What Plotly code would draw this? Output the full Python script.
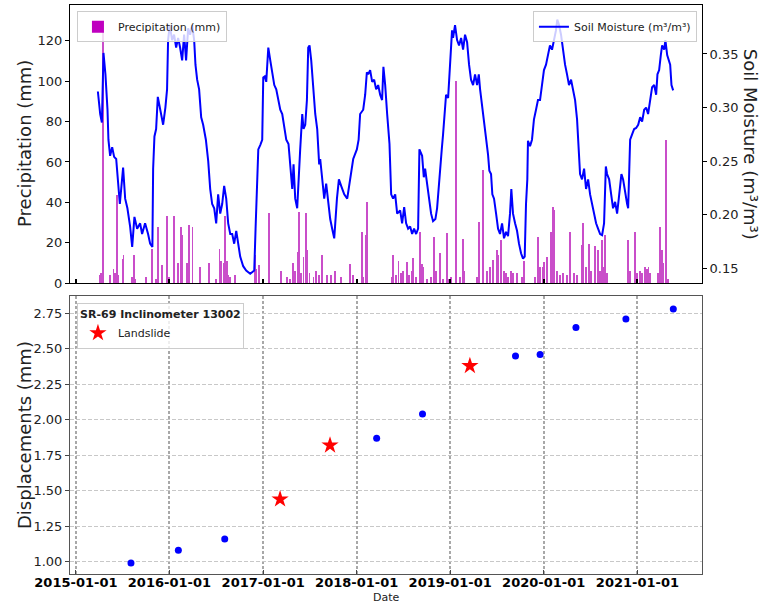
import datetime as dt
import plotly.graph_objects as go

# ---------------- data ----------------
# Soil moisture: time as decimal year, value in m3/m3
sm_year = [
 2015.235,2015.260,2015.278,2015.295,2015.316,2015.338,2015.348,2015.366,2015.388,2015.409,
 2015.431,2015.449,2015.470,2015.505,2015.527,2015.551,2015.580,2015.602,2015.626,2015.655,
 2015.687,2015.708,2015.740,2015.772,2015.794,2015.818,2015.826,2015.840,2015.858,2015.876,
 2015.901,2015.933,2015.957,2015.975,2015.986,2016.004,2016.029,2016.050,2016.072,2016.093,
 2016.114,2016.136,2016.157,2016.178,2016.200,2016.221,2016.243,2016.264,2016.278,2016.296,
 2016.317,2016.339,2016.360,2016.389,2016.414,2016.435,2016.456,2016.478,2016.499,2016.520,
 2016.542,2016.563,2016.584,2016.606,2016.627,2016.649,2016.670,2016.691,2016.713,2016.734,
 2016.755,2016.787,2016.819,2016.862,2016.905,2016.919,2016.934,2016.948,2016.969,2016.990,
 2017.001,2017.017,2017.033,2017.055,2017.076,2017.097,2017.119,2017.140,2017.161,2017.183,
 2017.204,2017.225,2017.247,2017.271,2017.297,2017.311,2017.325,2017.343,2017.364,2017.378,
 2017.396,2017.418,2017.432,2017.450,2017.468,2017.482,2017.496,2017.514,2017.535,2017.557,
 2017.578,2017.599,2017.610,2017.635,2017.653,2017.674,2017.696,2017.717,2017.738,2017.760,
 2017.789,2017.810,2017.838,2017.867,2017.899,2017.931,2017.963,2018.002,2018.021,2018.037,
 2018.070,2018.091,2018.109,2018.123,2018.144,2018.166,2018.187,2018.208,2018.230,2018.251,
 2018.272,2018.286,2018.305,2018.326,2018.351,2018.369,2018.390,2018.412,2018.433,2018.465,
 2018.486,2018.508,2018.529,2018.550,2018.572,2018.593,2018.614,2018.636,2018.657,2018.671,
 2018.700,2018.718,2018.732,2018.753,2018.775,2018.796,2018.817,2018.842,2018.860,2018.874,
 2018.892,2018.910,2018.924,2018.946,2018.956,2018.978,2018.992,2019.007,2019.020,2019.031,
 2019.052,2019.074,2019.095,2019.117,2019.138,2019.159,2019.181,2019.202,2019.223,2019.245,
 2019.266,2019.288,2019.306,2019.320,2019.341,2019.362,2019.384,2019.405,2019.419,2019.437,
 2019.451,2019.469,2019.491,2019.512,2019.533,2019.555,2019.576,2019.597,2019.619,2019.640,
 2019.654,2019.672,2019.694,2019.715,2019.736,2019.758,2019.779,2019.797,2019.811,2019.825,
 2019.832,2019.854,2019.875,2019.896,2019.918,2019.939,2019.961,2019.982,2020.003,2020.025,
 2020.046,2020.067,2020.089,2020.110,2020.131,2020.145,2020.164,2020.185,2020.206,2020.228,
 2020.249,2020.270,2020.292,2020.313,2020.335,2020.356,2020.372,2020.388,2020.409,2020.431,
 2020.452,2020.474,2020.495,2020.516,2020.538,2020.559,2020.580,2020.602,2020.623,2020.644,
 2020.663,2020.676,2020.698,2020.719,2020.740,2020.762,2020.783,2020.801,2020.815,2020.829,
 2020.847,2020.869,2020.890,2020.901,2020.912,2020.922,2020.943,2020.965,2020.986,2021.008,
 2021.029,2021.050,2021.072,2021.093,2021.114,2021.136,2021.157,2021.179,2021.200,2021.214,
 2021.232,2021.250,2021.264,2021.286,2021.299,2021.318,2021.332,2021.350,2021.364,2021.382,
]
sm_value = [
 0.315,0.294,0.286,0.351,0.331,0.298,0.270,0.255,0.263,0.254,
 0.252,0.235,0.210,0.244,0.215,0.206,0.189,0.170,0.198,0.187,
 0.192,0.182,0.192,0.182,0.173,0.170,0.243,0.273,0.280,0.310,
 0.298,0.284,0.300,0.317,0.363,0.377,0.363,0.368,0.356,0.365,
 0.356,0.344,0.368,0.344,0.374,0.368,0.377,0.363,0.340,0.326,
 0.317,0.291,0.284,0.270,0.250,0.224,0.210,0.206,0.192,0.219,
 0.201,0.210,0.227,0.215,0.192,0.182,0.182,0.173,0.185,0.173,
 0.161,0.152,0.148,0.145,0.148,0.187,0.227,0.261,0.265,0.270,
 0.328,0.329,0.324,0.356,0.344,0.333,0.321,0.317,0.307,0.298,
 0.294,0.284,0.270,0.266,0.243,0.224,0.247,0.215,0.206,0.238,
 0.261,0.294,0.280,0.284,0.307,0.356,0.358,0.344,0.317,0.294,
 0.280,0.247,0.252,0.233,0.215,0.229,0.210,0.196,0.187,0.178,
 0.215,0.233,0.226,0.219,0.215,0.233,0.252,0.261,0.270,0.294,
 0.298,0.312,0.333,0.331,0.335,0.324,0.326,0.317,0.321,0.312,
 0.307,0.338,0.321,0.294,0.266,0.219,0.215,0.219,0.201,0.204,
 0.192,0.207,0.192,0.187,0.189,0.182,0.187,0.182,0.187,0.261,
 0.255,0.235,0.243,0.229,0.215,0.201,0.194,0.196,0.206,0.224,
 0.243,0.261,0.275,0.301,0.312,0.309,0.335,0.358,0.372,0.365,
 0.377,0.363,0.358,0.365,0.354,0.368,0.361,0.340,0.326,0.321,
 0.331,0.321,0.331,0.317,0.303,0.289,0.275,0.256,0.241,0.238,
 0.219,0.215,0.201,0.187,0.182,0.192,0.178,0.184,0.180,0.201,
 0.224,0.201,0.192,0.185,0.173,0.164,0.159,0.161,0.210,0.233,
 0.269,0.264,0.270,0.289,0.298,0.307,0.307,0.321,0.335,0.340,
 0.349,0.358,0.354,0.363,0.372,0.382,0.377,0.368,0.354,0.340,
 0.331,0.321,0.326,0.317,0.307,0.289,0.261,0.238,0.233,0.243,
 0.224,0.233,0.219,0.210,0.201,0.192,0.187,0.182,0.181,0.192,
 0.245,0.238,0.233,0.219,0.206,0.212,0.201,0.215,0.224,0.238,
 0.233,0.219,0.210,0.206,0.258,0.270,0.275,0.280,0.281,0.284,
 0.291,0.287,0.298,0.300,0.294,0.307,0.319,0.321,0.312,0.331,
 0.335,0.349,0.358,0.354,0.363,0.349,0.344,0.340,0.321,0.316,
]

# Precipitation: time as decimal year, value in mm
pr_year = [
 2015.254,2015.265,2015.292,2015.366,2015.402,2015.420,2015.438,2015.449,2015.502,2015.509,
 2015.598,2015.623,2015.637,2015.751,2015.818,2015.855,2015.882,2015.919,2015.979,2015.997,
 2016.053,2016.096,2016.122,2016.139,2016.192,2016.210,2016.246,2016.328,2016.424,2016.499,
 2016.534,2016.552,2016.577,2016.595,2016.613,2016.630,2016.649,2016.702,2016.916,2016.926,
 2016.951,2017.058,2017.193,2017.254,2017.290,2017.318,2017.340,2017.368,2017.383,2017.404,
 2017.432,2017.457,2017.474,2017.496,2017.538,2017.564,2017.596,2017.631,2017.682,2017.724,
 2017.770,2017.831,2017.931,2017.959,2018.056,2018.073,2018.101,2018.115,
 2018.376,2018.393,2018.422,2018.447,2018.472,2018.500,2018.536,2018.564,2018.590,2018.607,
 2018.632,2018.673,2018.697,2018.714,2018.750,2018.793,2018.831,2018.849,2018.892,2018.921,
 2018.964,2018.988,2019.006,2019.060,2019.106,2019.135,2019.152,2019.284,2019.312,2019.355,
 2019.391,2019.426,2019.462,2019.498,2019.515,2019.544,2019.576,2019.597,2019.622,2019.647,
 2019.669,2019.712,2019.765,2019.786,2019.907,2019.942,2019.961,2019.989,2020.003,2020.032,
 2020.075,2020.096,2020.110,2020.139,2020.174,2020.209,2020.246,2020.281,2020.324,2020.353,
 2020.406,2020.423,2020.452,2020.487,2020.502,2020.548,2020.583,2020.602,2020.620,2020.637,
 2020.655,2020.679,2020.904,2020.922,2020.975,2020.994,2021.029,2021.047,2021.082,2021.100,
 2021.118,2021.136,2021.224,2021.243,2021.261,2021.278,2021.307,2021.331,
]
pr_mm = [
 4,5,130,4,7,5,43.6,4,12,14,
 3,14,2,3,17,2,28,9,33,3,
 33,10,28,24,10,29,28,8,10,2,
 17,11,10,33,11,4,3,4,14,7,
 9,34.5,6,3,2,10,6,15.5,35.4,5,
 13,34.5,16.4,5,3,6,4,14,4,4,
 6,3,9.4,4,25.4,3,23.8,40.3,
 3,14,4,11,5,6,10.6,4,6,12.4,
 3,25.4,9.6,8,2,3,23,6,15,2,
 24.6,2,3,100.3,3,22,6,3,30.4,56,
 6,8,11.4,16.4,14,21.3,6,5,3,6,
 5,5,3,11,3,23,8,8,10.6,13,
 25.4,37.8,36,6,4,5,4,25.4,5,4,
 18.8,29.6,8,19.3,6,18.2,16.4,6,21.3,8,
 23.8,5,21.3,6,25.4,5,6,5,8,7,
 8,5,5,27.9,16.4,10,70.9,2,
]

# Inclinometer displacements
disp_date = ["2015-08-04", "2016-02-05", "2016-08-04", "2018-03-20", "2018-09-15",
             "2019-09-13", "2019-12-18", "2020-05-06", "2020-11-17", "2021-05-21"]
disp_mm = [0.99, 1.08, 1.16, 1.87, 2.04, 2.45, 2.46, 2.65, 2.71, 2.78]
slide_date = ["2017-03-08", "2017-09-19", "2019-03-19"]
slide_mm = [1.44, 1.82, 2.38]

# tick settings
prec_ticks = [0, 20, 40, 60, 80, 100, 120]
sm_ticks = [0.15, 0.20, 0.25, 0.30, 0.35]
disp_ticks = [1.00, 1.25, 1.50, 1.75, 2.00, 2.25, 2.50, 2.75]


def yr2dt(y):
    year = int(y)
    start = dt.datetime(year, 1, 1)
    end = dt.datetime(year + 1, 1, 1)
    return start + (end - start) * (y - year)


sm_dates = [yr2dt(v) for v in sm_year]
pr_dates = [yr2dt(v) for v in pr_year]

FONT = "DejaVu Sans"
X_RANGE = ["2014-12-09", "2021-09-10"]
TOP_DOM = [0.5114, 1.0]
BOT_DOM = [0.0, 0.4886]

fig = go.Figure()

fig.add_trace(go.Bar(
    x=pr_dates, y=pr_mm, name="Precipitation (mm)", showlegend=False,
    marker=dict(color="#c94ec9", line=dict(width=0)),
    width=3.5 * 86400000, xaxis="x", yaxis="y",
))
# legend entry only (solid patch like the reference legend)
fig.add_trace(go.Bar(
    x=[None], y=[None], name="Precipitation (mm)",
    marker=dict(color="#bf00bf", line=dict(width=0)),
    xaxis="x", yaxis="y", legend="legend",
))
fig.add_trace(go.Scatter(
    x=sm_dates, y=sm_value, mode="lines", name="Soil Moisture (m³/m³)",
    line=dict(color="#0000ff", width=2), xaxis="x", yaxis="y2", legend="legend2",
))
fig.add_trace(go.Scatter(
    x=disp_date, y=disp_mm, mode="markers", showlegend=False,
    marker=dict(color="#0000ff", size=7), xaxis="x2", yaxis="y3",
))
fig.add_trace(go.Scatter(
    x=slide_date, y=slide_mm, mode="markers", name="Landslide",
    marker=dict(color="#ff0000", size=13, symbol="star", line=dict(width=0)),
    xaxis="x2", yaxis="y3", legend="legend3",
))

tick_font = dict(family=FONT, size=13, color="#222")
ann_font = dict(family=FONT, size=18, color="#222")

fig.update_layout(
    width=761, height=609,
    margin=dict(l=70, r=59, t=5, b=35),
    paper_bgcolor="white", plot_bgcolor="white",
    font=dict(family=FONT, size=11, color="#222"),
    bargap=0,
    xaxis=dict(type="date", domain=[0, 1], anchor="y", range=X_RANGE,
               showticklabels=False, ticks="inside", ticklen=4, tickwidth=2, tickcolor="black",
               dtick="M12", tick0="2015-01-01",
               showline=True, linecolor="black", mirror=True, showgrid=False, zeroline=False),
    yaxis=dict(domain=TOP_DOM, anchor="x", range=[0, 137.8], tickvals=prec_ticks,
               ticks="outside", ticklen=4, tickcolor="black", tickfont=tick_font,
               showline=True, linecolor="black", mirror=True, showgrid=False, zeroline=False),
    yaxis2=dict(overlaying="y", side="right", anchor="x", range=[0.1363, 0.3957],
                tickvals=sm_ticks, ticktext=[f"{v:.2f}" for v in sm_ticks],
                ticks="outside", ticklen=4, tickcolor="black", tickfont=tick_font,
                showline=True, linecolor="black", showgrid=False, zeroline=False),
    xaxis2=dict(type="date", domain=[0, 1], anchor="y3", matches="x", range=X_RANGE,
                dtick="M12", tick0="2015-01-01", tickformat="%Y-%m-%d",
                ticks="inside", ticklen=4, tickcolor="#444", ticklabelstandoff=-4,
                tickfont=dict(family=FONT, size=13, color="black", weight="bold"),
                showline=True, linecolor="#555", mirror=True,
                showgrid=True, gridcolor="#a8a8a8", griddash="3px,2px", gridwidth=1.6,
                zeroline=False),
    yaxis3=dict(domain=BOT_DOM, anchor="x2", range=[0.913, 2.872],
                tickvals=disp_ticks, ticktext=[f"{v:.2f}" for v in disp_ticks],
                ticks="outside", ticklen=4, tickcolor="#444", tickfont=tick_font,
                showline=True, linecolor="#555", mirror=True,
                showgrid=True, gridcolor="#c8c8c8", griddash="4px,2px", gridwidth=1,
                zeroline=False),
    legend=dict(x=0.011, y=0.989, xanchor="left", yanchor="top",
                bgcolor="rgba(255,255,255,0.8)", bordercolor="#cccccc", borderwidth=1,
                font=dict(family=FONT, size=11, color="#222")),
    legend2=dict(x=0.992, y=0.989, xanchor="right", yanchor="top",
                 bgcolor="rgba(255,255,255,0.8)", bordercolor="#cccccc", borderwidth=1,
                 font=dict(family=FONT, size=11, color="#222")),
    legend3=dict(x=0.011, y=0.476, xanchor="left", yanchor="top",
                 bgcolor="rgba(255,255,255,0.8)", bordercolor="#cccccc", borderwidth=1,
                 title=dict(text="<b>SR-69 Inclinometer 13002</b>", side="top center",
                            font=dict(family=FONT, size=11, color="#222")),
                 font=dict(family=FONT, size=11, color="#222")),
    annotations=[
        dict(text="Precipitation (mm)", x=-0.071, y=0.756, xref="paper", yref="paper",
             xanchor="center", yanchor="middle",
             textangle=-90, showarrow=False, font=ann_font),
        dict(text="Soil Moisture (m³/m³)", x=1.076, y=0.756, xref="paper", yref="paper",
             xanchor="center", yanchor="middle",
             textangle=90, showarrow=False, font=ann_font),
        dict(text="Displacements (mm)", x=-0.073, y=0.244, xref="paper", yref="paper",
             xanchor="center", yanchor="middle",
             textangle=-90, showarrow=False, font=ann_font),
        dict(text="Date", x=0.5, y=-0.042, xref="paper", yref="paper",
             xanchor="center", yanchor="middle",
             showarrow=False, font=dict(family=FONT, size=11, color="#222")),
    ],
)

fig.write_html("out.html")
